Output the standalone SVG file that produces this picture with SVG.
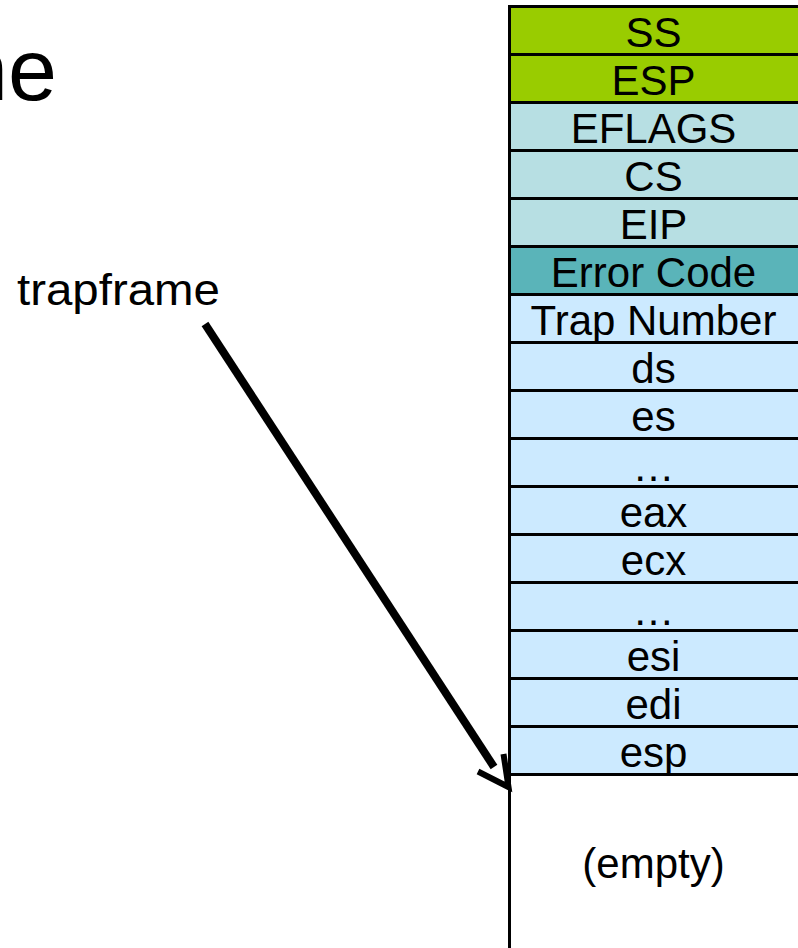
<svg xmlns="http://www.w3.org/2000/svg" width="798" height="948" viewBox="0 0 798 948">
  <style>
    text { font-family: "Liberation Sans", Arial, sans-serif; fill: #000; }
    .cell rect { stroke: #000; stroke-width: 3; }
    .cell text { font-size: 42px; text-anchor: middle; }
    .user { fill: #99cc00; }
    .hw { fill: #b7dfe3; }
    .err { fill: #5ab4b9; }
    .sw { fill: #cceaff; }
    .free { fill: #ffffff; }
    .conn { fill: none; stroke: #000; }
  </style>
  <rect width="798" height="948" fill="#ffffff"/>

  <!-- slide title, partly off the left edge -->
  <text x="57" y="100" font-size="88" text-anchor="end">ne</text>

  <!-- pointer label -->
  <g id="label-trapframe">
    <text x="17" y="305" font-size="44" textLength="203" lengthAdjust="spacingAndGlyphs">trapframe</text>
  </g>

  <!-- kernel stack, one group per slot -->
  <g id="stack">
    <g id="slot-ss" class="cell"><rect class="user" x="509.5" y="6.5" width="300" height="48"/><text x="653.5" y="46.5">SS</text></g>
    <g id="slot-esp-user" class="cell"><rect class="user" x="509.5" y="54.5" width="300" height="48"/><text x="653.5" y="94.5">ESP</text></g>
    <g id="slot-eflags" class="cell"><rect class="hw" x="509.5" y="102.5" width="300" height="48"/><text x="653.5" y="142.5">EFLAGS</text></g>
    <g id="slot-cs" class="cell"><rect class="hw" x="509.5" y="150.5" width="300" height="48"/><text x="653.5" y="190.5">CS</text></g>
    <g id="slot-eip" class="cell"><rect class="hw" x="509.5" y="198.5" width="300" height="48"/><text x="653.5" y="238.5">EIP</text></g>
    <g id="slot-errcode" class="cell"><rect class="err" x="509.5" y="246.5" width="300" height="48"/><text x="653.5" y="286.5">Error Code</text></g>
    <g id="slot-trapno" class="cell"><rect class="sw" x="509.5" y="294.5" width="300" height="48"/><text x="653.5" y="334.5">Trap Number</text></g>
    <g id="slot-ds" class="cell"><rect class="sw" x="509.5" y="342.5" width="300" height="48"/><text x="653.5" y="382.5">ds</text></g>
    <g id="slot-es" class="cell"><rect class="sw" x="509.5" y="390.5" width="300" height="48"/><text x="653.5" y="430.5">es</text></g>
    <g id="slot-seg-more" class="cell"><rect class="sw" x="509.5" y="438.5" width="300" height="48"/><text x="653.5" y="480.5">…</text></g>
    <g id="slot-eax" class="cell"><rect class="sw" x="509.5" y="486.5" width="300" height="48"/><text x="653.5" y="526.5">eax</text></g>
    <g id="slot-ecx" class="cell"><rect class="sw" x="509.5" y="534.5" width="300" height="48"/><text x="653.5" y="574.5">ecx</text></g>
    <g id="slot-reg-more" class="cell"><rect class="sw" x="509.5" y="582.5" width="300" height="48"/><text x="653.5" y="624.5">…</text></g>
    <g id="slot-esi" class="cell"><rect class="sw" x="509.5" y="630.5" width="300" height="48"/><text x="653.5" y="670.5">esi</text></g>
    <g id="slot-edi" class="cell"><rect class="sw" x="509.5" y="678.5" width="300" height="48"/><text x="653.5" y="718.5">edi</text></g>
    <g id="slot-esp" class="cell"><rect class="sw" x="509.5" y="726.5" width="300" height="48"/><text x="653.5" y="766.5">esp</text></g>
    <g id="slot-empty" class="cell"><rect class="free" x="509.5" y="774.5" width="300" height="180"/><text x="653.5" y="878">(empty)</text></g>
  </g>

  <!-- trapframe pointer -->
  <g id="connectors">
    <line class="conn" x1="205" y1="324" x2="494" y2="767" stroke-width="8"/>
    <polyline class="conn" points="478,771.5 508.5,787 503.5,754" stroke-width="6" stroke-linejoin="miter"/>
  </g>
</svg>
